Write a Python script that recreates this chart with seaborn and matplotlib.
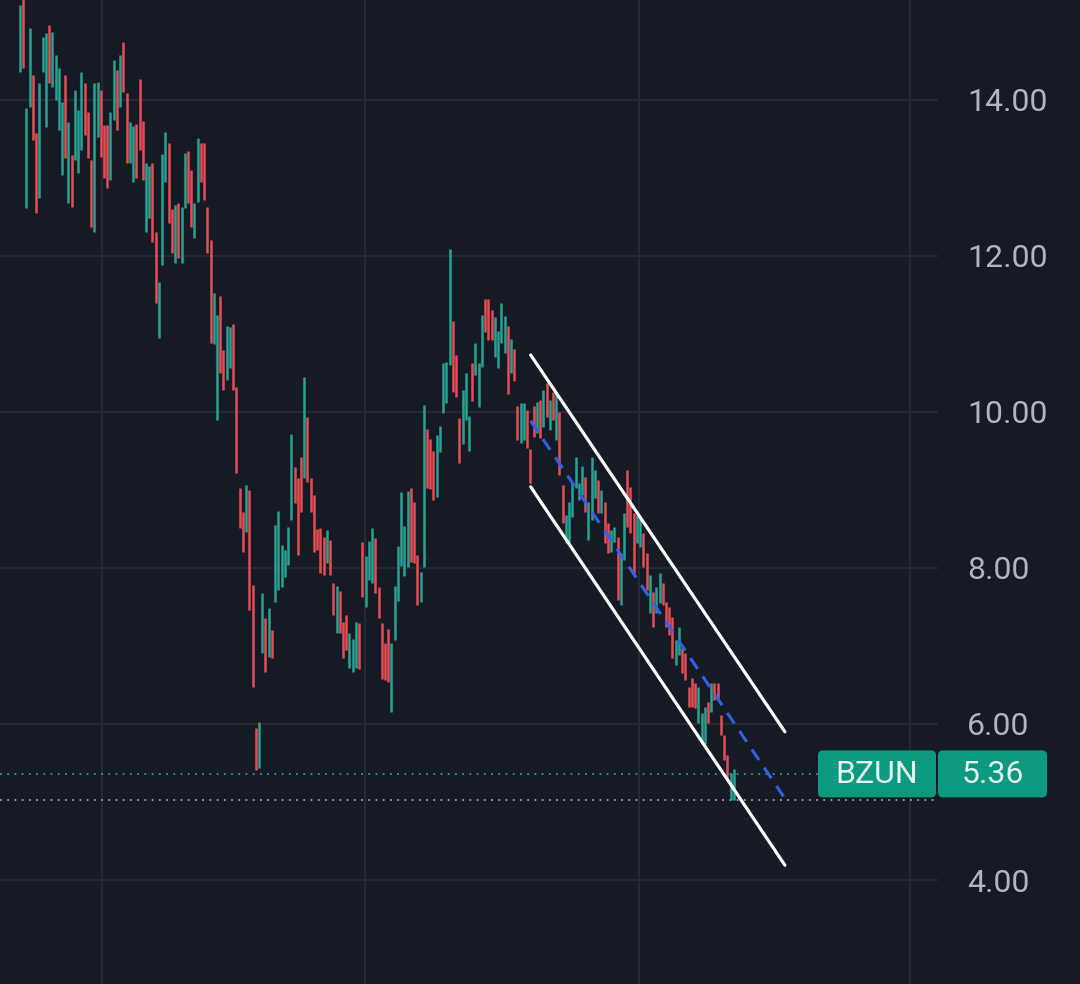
import matplotlib
matplotlib.use("Agg")
import matplotlib.pyplot as plt
import seaborn as sns
import numpy as np
import pandas as pd
from matplotlib.patches import FancyBboxPatch

# ---------------- data ----------------
high = [15.22, 15.35, 13.90, 14.92, 14.32, 13.58, 14.22, 14.81, 14.86, 14.96,
        14.87, 14.58, 14.41, 13.97, 14.32, 13.72, 13.29, 14.13, 13.87, 14.36,
        14.22, 13.85, 13.23, 14.22, 14.23, 14.13, 13.68, 13.68, 13.85, 14.51,
        14.38, 14.58, 14.74, 14.09, 13.72, 13.67, 13.69, 14.27, 13.73, 13.19,
        13.15, 13.19, 12.31, 11.67, 13.31, 13.59, 13.45, 12.60, 12.65, 12.68,
        12.63, 13.32, 13.35, 13.10, 12.68, 13.51, 13.45, 13.45, 12.63, 12.21,
        11.53, 11.24, 11.49, 10.79, 11.10, 11.09, 11.13, 10.32, 9.03, 8.72,
        9.06, 9.00, 7.78, 5.95, 6.03, 7.68, 7.36, 7.49, 7.21, 8.55,
        8.73, 8.29, 8.23, 8.53, 9.72, 9.29, 9.15, 9.42, 10.45, 9.94,
        9.15, 8.94, 8.50, 8.51, 8.40, 8.49, 8.36, 7.81, 7.77, 7.71,
        7.31, 7.40, 7.17, 7.09, 7.31, 7.29, 8.33, 8.15, 8.35, 8.51,
        8.38, 7.76, 7.29, 7.04, 7.22, 7.04, 7.77, 8.28, 8.97, 8.54,
        8.99, 9.03, 8.85, 8.17, 7.95, 10.09, 9.78, 9.65, 9.50, 9.71,
        9.82, 10.63, 10.64, 12.09, 11.17, 10.73, 9.92, 10.28, 10.50, 9.95,
        10.63, 10.88, 10.63, 11.24, 11.45, 11.45, 11.31, 11.22, 11.04, 11.40,
        11.23, 11.10, 10.94, 10.81, 10.08, 10.12, 10.12, 10.03, 9.53, 10.08,
        10.13, 10.15, 10.28, 10.37, 10.15, 10.26, 10.24, 10.00, 9.06, 8.68,
        8.85, 9.10, 9.42, 9.09, 9.31, 9.17, 8.85, 9.42, 9.26, 9.13,
        9.00, 8.85, 8.58, 8.49, 8.53, 8.40, 8.19, 8.71, 9.26, 9.04,
        8.71, 8.68, 8.65, 8.45, 8.19, 7.91, 7.69, 7.76, 7.94, 7.81,
        7.56, 7.50, 7.37, 7.08, 7.24, 6.97, 6.91, 6.47, 6.59, 6.53,
        6.47, 6.14, 6.22, 6.28, 6.53, 6.53, 6.53, 6.12, 5.86, 5.60,
        5.37, 5.42]
low = [14.36, 14.41, 12.62, 13.91, 13.49, 12.55, 12.74, 14.36, 13.65, 14.22,
       14.17, 14.00, 13.62, 13.04, 13.26, 12.68, 12.63, 13.23, 13.06, 13.36,
       13.55, 13.26, 12.37, 12.31, 13.53, 13.27, 13.00, 12.87, 12.97, 13.74,
       13.62, 13.91, 14.10, 13.19, 13.19, 12.95, 13.00, 13.36, 12.97, 12.31,
       12.49, 12.18, 11.40, 10.95, 11.88, 12.95, 12.42, 12.04, 11.91, 11.97,
       11.91, 12.62, 12.68, 12.37, 12.23, 12.69, 12.95, 12.72, 12.04, 10.88,
       10.87, 9.90, 10.50, 10.28, 10.41, 10.56, 10.28, 9.22, 8.51, 8.21,
       8.46, 7.46, 6.47, 5.41, 5.44, 6.91, 6.67, 6.86, 6.85, 7.56,
       7.72, 7.75, 7.88, 8.04, 8.62, 8.83, 8.17, 8.72, 9.15, 9.10,
       8.72, 8.21, 8.23, 7.94, 7.91, 8.06, 7.91, 7.40, 7.17, 7.17,
       6.85, 6.95, 6.72, 6.67, 6.72, 6.71, 7.63, 7.50, 7.85, 7.81,
       7.68, 7.36, 6.58, 6.56, 6.54, 6.15, 7.08, 7.58, 8.03, 7.90,
       8.01, 8.08, 8.06, 7.53, 7.56, 8.01, 9.03, 9.01, 8.87, 8.91,
       9.49, 9.99, 10.12, 10.60, 10.26, 10.19, 9.35, 9.59, 9.90, 9.50,
       10.14, 10.47, 10.06, 10.58, 11.03, 10.92, 10.92, 10.71, 10.56, 10.88,
       10.76, 10.23, 10.50, 10.40, 9.64, 9.60, 9.64, 9.54, 9.09, 9.68,
       9.73, 9.67, 9.81, 9.94, 9.77, 9.90, 9.64, 9.19, 8.58, 8.32,
       8.33, 8.65, 9.03, 8.87, 8.94, 8.72, 8.36, 8.62, 8.90, 8.71,
       8.71, 8.32, 8.19, 8.21, 8.33, 7.59, 7.53, 8.10, 8.53, 8.45,
       7.94, 8.32, 8.27, 8.01, 7.72, 7.42, 7.24, 7.42, 7.55, 7.53,
       7.24, 7.14, 6.85, 6.76, 6.88, 6.65, 6.56, 6.22, 6.22, 6.21,
       6.01, 5.76, 5.74, 6.01, 6.15, 6.31, 6.31, 5.86, 5.54, 5.28,
       5.03, 5.03]
direction = ("GRGGRRGGGR" "GGGGRGRGGG" "RRRGGRRRGG" "RGRRGGRRRG" "GRRGGGRRGR"
             "GGRRGGRRRR" "GGRRGGRRRR" "GRRRGGRGRG" "GGGGGRRRGR" "RRRRRGRRGR"
             "RRGGGRRGGG" "RRRRRGGGGG" "GRRRGGRRRG" "GGGGRRRGGG" "RGGGRRRGGG"
             "GRGRRGGRRR" "GRGRGRGRRG" "GGGGGRGGGR" "GRRGGRGGRR" "RGGRRGRGGR"
             "RRRGGRRRRR" "GGGRGRRRRR" "GG")

# drawn channel (bar index, price)
channel_x = [158.1, 236.8]
channel_upper = [10.73, 5.90]
channel_lower = [9.04, 4.19]
channel_mid = [9.885, 5.045]

ticker = "BZUN"
last_price = 5.36
last_low = 5.03
price_ticks = [4, 6, 8, 10, 12, 14]
time_grid = [25.3, 106.8, 191.6, 275.5]

# ---------------- styling ----------------
BG = "#161a25"
GRID = "#262a35"
UP = "#26a392"
DOWN = "#e84d55"
LABEL = "#b2b5be"
BOX = "#0b9a80"

sns.set_theme(style="dark")
plt.rcParams["font.family"] = ["Roboto", "DejaVu Sans"]

W, H = 1080, 984
fig = plt.figure(figsize=(W / 100, H / 100), dpi=100, facecolor=BG)
ax = fig.add_axes([0, 0, 938 / W, 1])
ax.set_facecolor(BG)

df = pd.DataFrame({"high": high, "low": low, "dir": list(direction)})
df["idx"] = np.arange(len(df))
df["color"] = np.where(df["dir"] == "G", UP, DOWN)

ax.vlines(df["idx"], df["low"], df["high"], colors=df["color"], linewidth=1.8, zorder=3)

# channel lines
sns.lineplot(x=channel_x, y=channel_upper, color="white", linewidth=2.3, ax=ax, zorder=5)
sns.lineplot(x=channel_x, y=channel_lower, color="white", linewidth=2.3, ax=ax, zorder=5)
sns.lineplot(x=channel_x, y=channel_mid, color="#2f62e8", linewidth=2.2,
             linestyle=(0, (4.2, 3.0)), ax=ax, zorder=5)

ax.set_xlim(-6.19, 284.2)
ax.set_ylim(2.667, 15.28)

# price lines
ax.axhline(last_price, xmin=0, xmax=818 / 938, color=UP, linewidth=1.3,
           linestyle=(0, (1, 3)), zorder=2)
ax.axhline(last_low, xmin=0, xmax=1, color="#a0a3ab", linewidth=1.3,
           linestyle=(0, (1, 3)), zorder=2)

# grid and ticks
ax.set_yticks(price_ticks)
ax.set_yticklabels([f"{v:.2f}" for v in price_ticks])
ax.set_xticks(time_grid)
ax.set_xticklabels([])
ax.yaxis.tick_right()
ax.tick_params(axis="y", length=0, pad=21, labelsize=23, labelcolor=LABEL)
ax.tick_params(axis="x", length=0)
ax.grid(True, color=GRID, linewidth=1.4, zorder=0)
for s in ax.spines.values():
    s.set_visible(False)

# last-price label boxes (pixel overlay)
ov = fig.add_axes([0, 0, 1, 1], facecolor="none")
ov.set_xlim(0, W)
ov.set_ylim(H, 0)
ov.axis("off")
yc = H - ax.transData.transform((0, last_price))[1]
bh = 47
for (x0, x1, txt) in [(818, 936, ticker), (938, 1047, f"{last_price:.2f}")]:
    ov.add_patch(FancyBboxPatch((x0, yc - bh / 2), x1 - x0, bh,
                                boxstyle="round,pad=0,rounding_size=5",
                                facecolor=BOX, edgecolor="none", zorder=10))
    ov.text((x0 + x1) / 2, yc + 1, txt, ha="center", va="center",
            color="#e6f4f1", fontsize=23, zorder=11)

fig.savefig("out.png", dpi=100, facecolor=BG)
